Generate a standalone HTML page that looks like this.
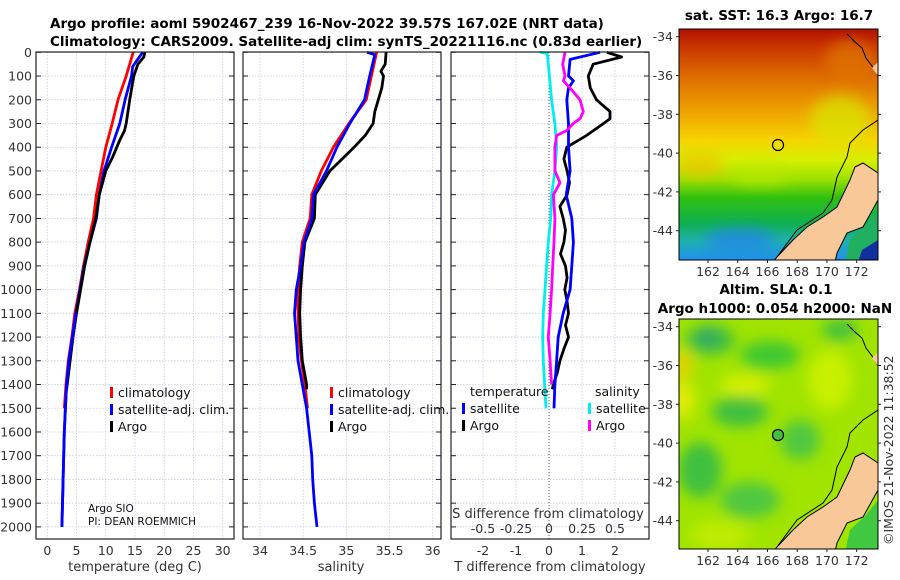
<!DOCTYPE html>
<html><head><meta charset="utf-8"><style>
html,body{margin:0;padding:0;background:#fff;}
svg{display:block;font-family:"DejaVu Sans","Liberation Sans",sans-serif;}
</style></head><body>
<svg id="fig" width="900" height="580" viewBox="0 0 900 580" xmlns="http://www.w3.org/2000/svg">
<defs>
<linearGradient id="sstGrad" x1="0" y1="0" x2="0" y2="1">
<stop offset="0" stop-color="#b01000"/><stop offset="0.07" stop-color="#c83200"/>
<stop offset="0.2" stop-color="#dc6a00"/><stop offset="0.35" stop-color="#eea000"/>
<stop offset="0.48" stop-color="#f6d400"/><stop offset="0.57" stop-color="#d6f000"/>
<stop offset="0.65" stop-color="#9ce000"/><stop offset="0.73" stop-color="#30c010"/>
<stop offset="0.84" stop-color="#10b050"/><stop offset="0.92" stop-color="#20b0b0"/>
<stop offset="1" stop-color="#2090f0"/>
</linearGradient>
<filter id="blur" x="-50%" y="-50%" width="200%" height="200%"><feGaussianBlur stdDeviation="7"/></filter>
<clipPath id="clipTop"><rect x="679" y="29" width="199" height="231"/></clipPath>
<clipPath id="clipBot"><rect x="679" y="319" width="199" height="230"/></clipPath>
</defs>

<g font-weight="bold" font-size="13.5" fill="#000">
<text x="50" y="28">Argo profile: aoml 5902467_239 16-Nov-2022 39.57S 167.02E (NRT data)</text>
<text x="50" y="46">Climatology: CARS2009. Satellite-adj clim: synTS_20221116.nc (0.83d earlier)</text>
</g>

<g id="panels"></g>

<!-- SST map -->
<g>
<text x="779" y="20" text-anchor="middle" font-weight="bold" font-size="13.5">sat. SST: 16.3 Argo: 16.7</text>
<g clip-path="url(#clipTop)">
<rect x="679" y="29" width="199" height="231" fill="url(#sstGrad)"/>
<g filter="url(#blur)" opacity="0.7">
<ellipse cx="700" cy="165" rx="25" ry="12" fill="#f0c000"/>
<ellipse cx="760" cy="175" rx="30" ry="10" fill="#b8e800"/>
<ellipse cx="840" cy="120" rx="30" ry="25" fill="#d8e800"/>
<ellipse cx="850" cy="60" rx="25" ry="20" fill="#e07800"/>
<ellipse cx="740" cy="240" rx="35" ry="12" fill="#2080f0"/>
</g>
<g id="landTop">
<polygon points="878,173 863,163 855,167 850,180 837,207 823,217 807,227 793,240 777,257 773,262 835,262 837,253 847,233 863,227 878,200" fill="#f8c898" stroke="#000" stroke-width="1"/>
<polygon points="878,210 866,225 850,240 845,262 878,262" fill="#20b060"/>
<polygon points="878,240 862,250 858,262 878,262" fill="#1030a0"/>
<polyline points="847,34 855,42 862,48 866,58 872,66 878,76" fill="none" stroke="#000" stroke-width="1"/>
<polygon points="878,62 878,76 872,68" fill="#f8c898"/>
<polyline points="878,120 863,130 850,143 847,157 837,177 832,200 823,213 797,230 777,257" fill="none" stroke="#000" stroke-width="1"/>
</g>
</g>
<circle cx="778" cy="145" r="5.5" fill="none" stroke="#000" stroke-width="1.2"/>
<rect x="679" y="29" width="199" height="231" fill="none" stroke="#000" stroke-width="1"/>
<g id="mapTopTicks" font-size="12.5" fill="#333"></g>
</g>

<!-- SLA map -->
<g>
<text x="776" y="294" text-anchor="middle" font-weight="bold" font-size="13.5">Altim. SLA: 0.1</text>
<text x="775" y="313" text-anchor="middle" font-weight="bold" font-size="13.5">Argo h1000: 0.054 h2000: NaN</text>
<g clip-path="url(#clipBot)">
<rect x="679" y="319" width="199" height="230" fill="#a0e400"/>
<g filter="url(#blur)">
<ellipse cx="710" cy="340" rx="25" ry="15" fill="#40c040"/>
<ellipse cx="708" cy="337" rx="10" ry="8" fill="#30a070"/>
<ellipse cx="770" cy="355" rx="30" ry="14" fill="#40c830"/>
<ellipse cx="740" cy="412" rx="28" ry="15" fill="#40c040"/>
<ellipse cx="700" cy="470" rx="22" ry="28" fill="#40c040"/>
<ellipse cx="750" cy="500" rx="30" ry="18" fill="#50c840"/>
<ellipse cx="800" cy="440" rx="20" ry="20" fill="#50c840"/>
<ellipse cx="683" cy="400" rx="12" ry="20" fill="#e0ec00"/>
<ellipse cx="683" cy="365" rx="8" ry="15" fill="#f0d000"/>
<ellipse cx="745" cy="385" rx="25" ry="10" fill="#d8f000"/>
<ellipse cx="830" cy="380" rx="22" ry="30" fill="#c8f000"/>
<ellipse cx="720" cy="535" rx="30" ry="14" fill="#c0ec00"/>
<ellipse cx="840" cy="330" rx="18" ry="10" fill="#40c040"/>
</g>
<g transform="translate(0,290)">
<polygon points="878,173 863,163 855,167 850,180 837,207 823,217 807,227 793,240 777,257 773,262 835,262 837,253 847,233 863,227 878,200" fill="#f8c898" stroke="#000" stroke-width="1"/>
<polygon points="878,210 866,225 850,240 845,262 878,262" fill="#40c840"/>
<polyline points="847,34 855,42 862,48 866,58 872,66 878,76" fill="none" stroke="#000" stroke-width="1"/>
<polygon points="878,62 878,76 872,68" fill="#f8c898"/>
<polyline points="878,120 863,130 850,143 847,157 837,177 832,200 823,213 797,230 777,257" fill="none" stroke="#000" stroke-width="1"/>
</g>
</g>
<circle cx="778" cy="435" r="5.5" fill="#40c040" stroke="#000" stroke-width="1.2"/>
<rect x="679" y="319" width="199" height="230" fill="none" stroke="#000" stroke-width="1"/>
<g id="mapBotTicks" font-size="12.5" fill="#333"></g>
</g>

<text transform="translate(893,545) rotate(-90)" font-size="12.5" fill="#333">©IMOS 21-Nov-2022 11:38:52</text>
</svg>

<script>
// ---- depth axis ----
const depthTicks = [0,100,200,300,400,500,600,700,800,900,1000,1100,1200,1300,1400,1500,1600,1700,1800,1900,2000];
// ---- temperature panel ----
const tempTicks = [0,5,10,15,20,25,30];
const tempClimDepth = [0,100,200,300,400,500,600,700,800,900,1000,1100,1200,1300,1400,1500];
const tempClim = [14.7,13.5,12.1,11.1,10.0,9.2,8.4,7.9,7.0,6.2,5.5,4.7,4.2,3.6,3.2,2.9];
const tempSatDepth = [0,60,100,200,300,400,500,600,700,800,900,1000,1100,1200,1300,1400,1500,1600,1700,1800,1900,2000];
const tempSat = [16.3,14.6,14.4,13.3,12.4,11.0,9.7,8.9,8.4,7.3,6.3,5.6,4.9,4.3,3.7,3.3,3.1,2.9,2.8,2.7,2.6,2.5];
const tempArgoDepth = [0,20,50,100,200,300,330,370,440,500,600,700,800,900,1000,1100,1200,1300,1400,1420];
const tempArgo = [16.7,16.5,15.5,14.8,14.1,13.5,13.2,12.4,11.2,10.0,8.9,8.3,7.3,6.4,5.7,5.0,4.4,3.9,3.4,3.3];
// ---- salinity panel ----
const salTicks = [34,34.5,35,35.5,36];
const salTickLabels = ["34","34.5","35","35.5","36"];
const salClimDepth = [0,100,200,300,400,500,600,700,800,900,1000,1100,1200,1300,1400,1500];
const salClim = [35.35,35.29,35.23,35.03,34.85,34.71,34.60,34.58,34.49,34.46,34.44,34.44,34.45,34.48,34.52,34.55];
const salSatDepth = [0,10,100,200,300,400,500,600,700,800,900,1000,1100,1200,1300,1400,1500,1600,1700,1800,1900,2000];
const salSat = [35.24,35.33,35.27,35.21,35.04,34.89,34.77,34.62,34.6,34.51,34.47,34.42,34.40,34.42,34.44,34.49,34.54,34.57,34.6,34.61,34.63,34.66];
const salArgoDepth = [0,50,80,100,150,200,250,300,350,400,450,500,600,700,800,900,1000,1100,1200,1300,1400,1420];
const salArgo = [35.46,35.45,35.40,35.43,35.41,35.37,35.33,35.31,35.22,35.09,34.95,34.81,34.64,34.63,34.52,34.49,34.47,34.46,34.47,34.49,34.54,34.54];
// ---- difference panel ----
const tDiffTicks = [-2,-1,0,1,2];
const sDiffTicks = [-0.5,-0.25,0,0.25,0.5];
const sDiffTickLabels = ["-0.5","-0.25","0","0.25","0.5"];
const tDiffArgoDepth = [0,20,50,100,150,200,250,280,300,350,400,450,500,550,600,650,700,750,800,850,900,950,1000,1050,1100,1150,1200,1250,1300,1350,1400,1420];
const tDiffArgo = [1.75,2.2,1.34,1.19,1.25,1.44,1.85,1.85,1.65,1.14,0.54,0.45,0.55,0.62,0.55,0.33,0.43,0.5,0.45,0.35,0.5,0.55,0.48,0.55,0.59,0.5,0.59,0.45,0.33,0.25,0.13,0.1];
const tDiffSatDepth = [0,30,100,120,150,200,300,400,500,600,700,800,900,1000,1100,1200,1300,1400,1500];
const tDiffSat = [1.55,0.64,0.59,0.74,0.59,0.54,0.59,0.59,0.64,0.52,0.69,0.74,0.69,0.64,0.43,0.28,0.23,0.18,0.15];
const sDiffSatDepth = [0,5,100,200,300,400,500,600,700,800,900,1000,1100,1200,1300,1400,1500];
const sDiffSat = [-0.068,-0.013,0.003,0.02,0.045,0.058,0.045,0.02,0.013,-0.005,-0.018,-0.03,-0.043,-0.048,-0.043,-0.033,-0.023];
const sDiffArgoDepth = [0,50,100,120,150,200,250,280,300,330,350,400,500,550,600,700,800,900,1000,1100,1200,1300,1400];
const sDiffArgo = [0.121,0.104,0.121,0.109,0.159,0.235,0.26,0.235,0.184,0.134,0.058,0.045,0.045,0.083,0.033,0.045,0.038,0.028,0.02,0.008,-0.005,0.008,0.02];
// ---- maps ----
const lonTicks = [162,164,166,168,170,172];
const latTicks = [-34,-36,-38,-40,-42,-44];

const NS = "http://www.w3.org/2000/svg";
function mk(tag, attrs, parent){ const e=document.createElementNS(NS,tag); for(const k in attrs) e.setAttribute(k,attrs[k]); if(parent) parent.appendChild(e); return e; }
const TOP=52, BOT=539;
function yD(d){ return 52.3 + d*0.2373; }
const panels = document.getElementById('panels');

function linear(d0,d1,r0,r1){ return v => r0 + (v-d0)*(r1-r0)/(d1-d0); }
const xT = linear(0,30,47.3,222.7);
const xS = linear(34,36,260,432.7);
const xTd = linear(0,1,549,582);
const xSd = linear(0,0.25,549,582);

function frame(x0,x1,name,showDepthLabels){
  const g = mk('g',{},panels);
  
  
  depthTicks.forEach(d=>{
    const y=yD(d);
    mk('line',{x1:x0,x2:x1,y1:y,y2:y,stroke:'#c8cce8','stroke-width':0.8,'stroke-dasharray':'1.5,1.5'},g);
    mk('line',{x1:x0,x2:x0+5,y1:y,y2:y,stroke:'#222','stroke-width':1},g);
    mk('line',{x1:x1-5,x2:x1,y1:y,y2:y,stroke:'#222','stroke-width':1},g);
    if(showDepthLabels){
      const t=mk('text',{x:x0-4,y:y+4.5,'text-anchor':'end','font-size':12.5,fill:'#333'},g);
      t.textContent=d;
      
      
    }
  });
  return g;
}
function vgrid(g,ticks,xf){
  ticks.forEach(v=>{ const x=xf(v); mk('line',{x1:x,x2:x,y1:TOP,y2:BOT,stroke:'#c8cce8','stroke-width':0.8,'stroke-dasharray':'1.5,1.5'},g); });
}
function xlabels(g,ticks,labels,xf,y){
  ticks.forEach((v,i)=>{
    const t=mk('text',{x:xf(v),y:y,'text-anchor':'middle','font-size':12.5,fill:'#333'},g);
    t.textContent=labels?labels[i]:String(v);
    
    
  });
}
function border(g,x0,x1){ mk('rect',{x:x0,y:TOP,width:x1-x0,height:BOT-TOP,fill:'none',stroke:'#222','stroke-width':1.2},g); }
function line(g,vals,depths,xf,color,name){
  const pts = vals.map((v,i)=>xf(v).toFixed(1)+','+yD(depths[i]).toFixed(1)).join(' ');
  const p = mk('polyline',{points:pts,fill:'none',stroke:color,'stroke-width':2.8,'stroke-linejoin':'round'},g);
  
  
}
function legendItem(g,x,y,color,label,name){
  mk('rect',{x:x,y:y-10,width:3,height:11,fill:color},g);
  const t=mk('text',{x:x+8,y:y,'font-size':12.5,fill:'#111'},g);
  t.textContent=label;
  
  
}
function title(g,x,y,txt,name){
  const t=mk('text',{x:x,y:y,'text-anchor':'middle','font-size':13,fill:'#333'},g);
  t.textContent=txt;
  
  
}

// Panel 1: temperature
let g1 = frame(36,234,'temperature-panel',true);
vgrid(g1,tempTicks,xT);
line(g1,tempClim,tempClimDepth,xT,'#ff0000','temp-climatology-line');
line(g1,tempSat,tempSatDepth,xT,'#0000ff','temp-satellite-line');
line(g1,tempArgo,tempArgoDepth,xT,'#000000','temp-argo-line');
line(g1,tempSat.slice(12),tempSatDepth.slice(12),xT,'#0000ff','temp-satellite-deep-line');
border(g1,36,234);
xlabels(g1,tempTicks,null,xT,555);
title(g1,135,571,'temperature (deg C)','temperature-axis-title');
legendItem(g1,110,397,'#ff0000','climatology','legend-climatology');
legendItem(g1,110,414,'#0000ff','satellite-adj. clim.','legend-satellite');
legendItem(g1,110,431,'#000000','Argo','legend-argo');
let c1=mk('text',{x:88,y:512,'font-size':10.5,fill:'#111'},g1); c1.textContent='Argo SIO';


let c2=mk('text',{x:88,y:525,'font-size':10.5,fill:'#111'},g1); c2.textContent='PI: DEAN ROEMMICH';



// Panel 2: salinity
let g2 = frame(243,441,'salinity-panel',false);
vgrid(g2,salTicks,xS);
line(g2,salClim,salClimDepth,xS,'#ff0000','sal-climatology-line');
line(g2,salArgo,salArgoDepth,xS,'#000000','sal-argo-line');
line(g2,salSat,salSatDepth,xS,'#0000ff','sal-satellite-line');
border(g2,243,441);
xlabels(g2,salTicks,salTickLabels,xS,555);
title(g2,341,571,'salinity','salinity-axis-title');
legendItem(g2,330,397,'#ff0000','climatology','legend-climatology-sal');
legendItem(g2,330,414,'#0000ff','satellite-adj. clim.','legend-satellite-sal');
legendItem(g2,330,431,'#000000','Argo','legend-argo-sal');

// Panel 3: differences
let g3 = frame(451,649,'difference-panel',false);
vgrid(g3,tDiffTicks,xTd);
mk('line',{x1:xTd(0),x2:xTd(0),y1:TOP,y2:BOT,stroke:'#555','stroke-width':1,'stroke-dasharray':'1,2'},g3);
line(g3,tDiffArgo,tDiffArgoDepth,xTd,'#000000','tdiff-argo-line');
line(g3,tDiffSat,tDiffSatDepth,xTd,'#0000ff','tdiff-satellite-line');
line(g3,sDiffSat,sDiffSatDepth,xSd,'#00eeee','sdiff-satellite-line');
line(g3,sDiffArgo,sDiffArgoDepth,xSd,'#ff00ff','sdiff-argo-line');
border(g3,451,649);
xlabels(g3,tDiffTicks,null,xTd,555);
title(g3,550,571,'T difference from climatology','tdiff-axis-title');
title(g3,548,518,'S difference from climatology','sdiff-axis-title');
xlabels(g3,sDiffTicks,sDiffTickLabels,xSd,533);
let lt=mk('text',{x:470,y:396,'font-size':12.5,fill:'#111'},g3); lt.textContent='temperature';


let ls=mk('text',{x:595,y:396,'font-size':12.5,fill:'#111'},g3); ls.textContent='salinity';


legendItem(g3,462,413,'#0000ff','satellite','legend-tdiff-satellite');
legendItem(g3,462,430,'#000000','Argo','legend-tdiff-argo');
legendItem(g3,588,413,'#00eeee','satellite','legend-sdiff-satellite');
legendItem(g3,588,430,'#ff00ff','Argo','legend-sdiff-argo');

// map ticks
function mapTicks(id,y0,yBottom){
  const g=document.getElementById(id);
  const xL = linear(162,172,708,856.7);
  const yL = linear(-34,-44,y0+7.7,y0+201.7);
  lonTicks.forEach(v=>{
    const t=mk('text',{x:xL(v),y:yBottom+16,'text-anchor':'middle'},g); t.textContent=v;
    
    
    mk('line',{x1:xL(v),x2:xL(v),y1:yBottom,y2:yBottom+3,stroke:'#222'},g);
  });
  latTicks.forEach(v=>{
    const t=mk('text',{x:673,y:yL(v)+4.5,'text-anchor':'end'},g); t.textContent=v;
    
    
    mk('line',{x1:676,x2:679,y1:yL(v),y2:yL(v),stroke:'#222'},g);
    mk('line',{x1:878,x2:881,y1:yL(v),y2:yL(v),stroke:'#222'},g);
  });
}
mapTicks('mapTopTicks',29,260);
mapTicks('mapBotTicks',319,549);
</script>
</body></html>
